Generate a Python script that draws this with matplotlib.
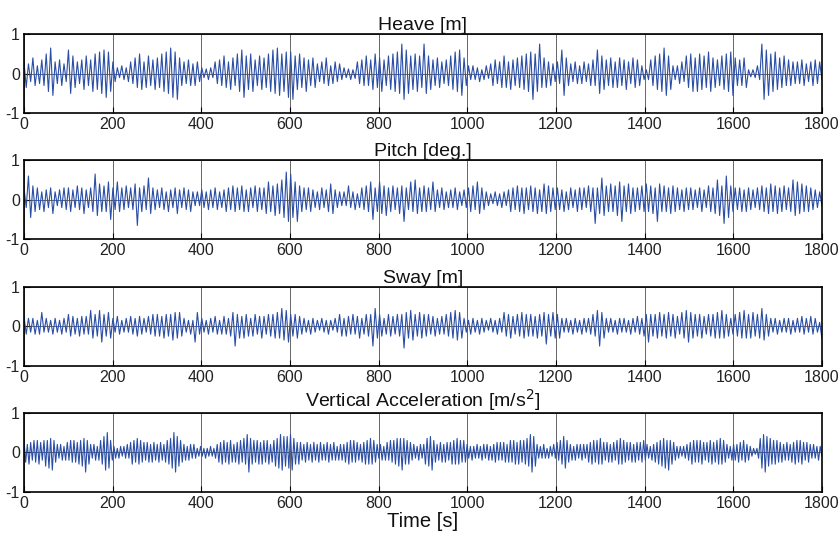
import matplotlib
matplotlib.use("Agg")
import matplotlib.pyplot as plt
import numpy as np

plt.rcParams['font.family'] = ['Liberation Sans', 'DejaVu Sans']
plt.rcParams['axes.unicode_minus'] = False

# turning-point samples of each response, one row per 60 s
heave = [
    0.30, -0.35, 0.25, -0.20, 0.40, -0.30, 0.20, -0.25, 0.35, -0.30, 0.50, -0.45,
    0.65, -0.55, 0.30, -0.25, 0.35, -0.30, 0.25, -0.20, 0.60, -0.50, 0.45, -0.35,
    0.30, -0.25, 0.35, -0.40, 0.45, -0.30, 0.35, -0.45, 0.50, -0.40, 0.55, -0.50,
    0.60, -0.60, 0.55, -0.45, 0.30, -0.20, 0.15, -0.10, 0.20, -0.15, 0.15, -0.20,
    0.30, -0.25, 0.40, -0.35, 0.50, -0.40, 0.30, -0.35, 0.45, -0.30, 0.35, -0.40,
    0.40, -0.35, 0.50, -0.45, 0.55, -0.50, 0.65, -0.60, 0.55, -0.65, 0.40, -0.30,
    0.30, -0.25, 0.35, -0.30, 0.25, -0.30, 0.30, -0.20, 0.15, -0.10, 0.12, -0.15,
    0.15, -0.10, 0.30, -0.25, 0.35, -0.30, 0.45, -0.35, 0.30, -0.40, 0.40, -0.30,
    0.50, -0.45, 0.60, -0.60, 0.45, -0.40, 0.50, -0.45, 0.35, -0.30, 0.45, -0.40,
    0.40, -0.35, 0.50, -0.45, 0.60, -0.50, 0.65, -0.55, 0.50, -0.45, 0.55, -0.60,
    0.55, -0.65, 0.45, -0.40, 0.50, -0.35, 0.40, -0.45, 0.35, -0.30, 0.40, -0.35,
    0.25, -0.20, 0.30, -0.25, 0.40, -0.30, 0.20, -0.25, 0.30, -0.20, 0.25, -0.15,
    0.15, -0.10, 0.12, -0.15, 0.10, -0.12, 0.30, -0.25, 0.35, -0.30, 0.45, -0.30,
    0.35, -0.40, 0.50, -0.35, 0.40, -0.45, 0.35, -0.30, 0.45, -0.40, 0.50, -0.45,
    0.55, -0.50, 0.75, -0.65, 0.60, -0.50, 0.45, -0.40, 0.50, -0.45, 0.45, -0.35,
    0.75, -0.50, 0.45, -0.40, 0.35, -0.30, 0.40, -0.35, 0.30, -0.25, 0.35, -0.30,
    0.45, -0.40, 0.55, -0.45, 0.60, -0.55, 0.40, -0.30, 0.20, -0.15, 0.20, -0.15,
    0.15, -0.20, 0.10, -0.15, 0.20, -0.12, 0.25, -0.30, 0.35, -0.25, 0.30, -0.35,
    0.45, -0.35, 0.30, -0.40, 0.35, -0.30, 0.40, -0.35, 0.45, -0.40, 0.50, -0.45,
    0.55, -0.65, 0.50, -0.45, 0.75, -0.35, 0.40, -0.35, 0.30, -0.30, 0.25, -0.20,
    0.30, -0.25, 0.60, -0.55, 0.40, -0.30, 0.25, -0.20, 0.30, -0.25, 0.20, -0.25,
    0.30, -0.20, 0.25, -0.30, 0.35, -0.30, 0.60, -0.50, 0.45, -0.40, 0.35, -0.30,
    0.40, -0.35, 0.30, -0.35, 0.40, -0.30, 0.35, -0.40, 0.30, -0.25, 0.40, -0.35,
    0.35, -0.30, 0.20, -0.15, 0.10, -0.15, 0.35, -0.30, 0.45, -0.40, 0.50, -0.45,
    0.65, -0.55, 0.45, -0.40, 0.20, -0.15, 0.20, -0.25, 0.30, -0.20, 0.45, -0.35,
    0.50, -0.45, 0.40, -0.45, 0.50, -0.40, 0.45, -0.35, 0.55, -0.45, 0.40, -0.35,
    0.35, -0.30, 0.45, -0.40, 0.50, -0.45, 0.55, -0.55, 0.40, -0.30, 0.35, -0.30,
    0.40, -0.35, 0.10, -0.08, 0.10, -0.10, 0.20, -0.15, 0.75, -0.65, 0.60, -0.55,
    0.50, -0.45, 0.55, -0.40, 0.40, -0.35, 0.45, -0.30, 0.35, -0.30, 0.30, -0.25,
    0.30, -0.25, 0.35, -0.30, 0.25, -0.20, 0.30, -0.30, 0.35, -0.25, 0.30, -0.15,
]

pitch = [
    0.30, -0.20, 0.60, -0.45, 0.35, -0.30, 0.30, -0.25, 0.20, -0.30, 0.25, -0.20,
    0.30, -0.35, 0.20, -0.15, 0.25, -0.20, 0.30, -0.25, 0.30, -0.30, 0.25, -0.20,
    0.35, -0.25, 0.30, -0.35, 0.25, -0.20, 0.30, -0.30, 0.65, -0.40, 0.40, -0.30,
    0.35, -0.30, 0.45, -0.50, 0.30, -0.25, 0.45, -0.30, 0.30, -0.25, 0.35, -0.20,
    0.30, -0.25, 0.40, -0.65, 0.30, -0.30, 0.35, -0.25, 0.55, -0.35, 0.30, -0.25,
    0.25, -0.20, 0.30, -0.25, 0.20, -0.30, 0.25, -0.20, 0.30, -0.35, 0.25, -0.20,
    0.30, -0.25, 0.25, -0.30, 0.20, -0.15, 0.20, -0.15, 0.25, -0.20, 0.20, -0.25,
    0.25, -0.20, 0.30, -0.25, 0.20, -0.20, 0.25, -0.30, 0.30, -0.25, 0.35, -0.30,
    0.30, -0.25, 0.35, -0.30, 0.25, -0.30, 0.30, -0.20, 0.35, -0.30, 0.30, -0.25,
    0.30, -0.35, 0.45, -0.30, 0.35, -0.40, 0.40, -0.35, 0.50, -0.45, 0.70, -0.55,
    0.65, -0.45, 0.45, -0.55, 0.35, -0.30, 0.30, -0.25, 0.30, -0.30, 0.25, -0.20,
    0.20, -0.25, 0.30, -0.20, 0.25, -0.30, 0.40, -0.35, 0.25, -0.20, 0.20, -0.15,
    0.20, -0.15, 0.35, -0.20, 0.20, -0.25, 0.15, -0.20, 0.30, -0.25, 0.35, -0.30,
    0.45, -0.50, 0.30, -0.30, 0.45, -0.35, 0.35, -0.40, 0.30, -0.30, 0.35, -0.25,
    0.30, -0.35, 0.35, -0.55, 0.30, -0.25, 0.45, -0.30, 0.50, -0.35, 0.30, -0.30,
    0.35, -0.30, 0.30, -0.25, 0.45, -0.30, 0.25, -0.20, 0.30, -0.25, 0.20, -0.20,
    0.25, -0.20, 0.30, -0.25, 0.20, -0.15, 0.25, -0.20, 0.30, -0.30, 0.35, -0.25,
    0.45, -0.35, 0.30, -0.25, 0.20, -0.15, 0.15, -0.10, 0.20, -0.15, 0.15, -0.20,
    0.20, -0.15, 0.25, -0.30, 0.30, -0.25, 0.35, -0.30, 0.30, -0.35, 0.30, -0.25,
    0.35, -0.30, 0.30, -0.35, 0.25, -0.30, 0.40, -0.35, 0.35, -0.30, 0.30, -0.25,
    0.30, -0.25, 0.25, -0.30, 0.20, -0.25, 0.30, -0.20, 0.25, -0.30, 0.30, -0.25,
    0.30, -0.20, 0.35, -0.30, 0.30, -0.60, 0.30, -0.35, 0.55, -0.40, 0.35, -0.30,
    0.40, -0.30, 0.35, -0.40, 0.45, -0.55, 0.35, -0.30, 0.40, -0.35, 0.30, -0.30,
    0.30, -0.25, 0.35, -0.30, 0.40, -0.30, 0.35, -0.35, 0.30, -0.55, 0.40, -0.30,
    0.35, -0.30, 0.30, -0.35, 0.35, -0.30, 0.30, -0.25, 0.25, -0.30, 0.30, -0.25,
    0.30, -0.25, 0.25, -0.20, 0.30, -0.30, 0.25, -0.20, 0.35, -0.30, 0.30, -0.35,
    0.50, -0.40, 0.35, -0.60, 0.60, -0.45, 0.35, -0.30, 0.30, -0.25, 0.30, -0.30,
    0.25, -0.30, 0.30, -0.25, 0.25, -0.20, 0.30, -0.25, 0.35, -0.30, 0.30, -0.35,
    0.40, -0.30, 0.35, -0.35, 0.30, -0.30, 0.35, -0.25, 0.30, -0.30, 0.50, -0.40,
    0.45, -0.35, 0.40, -0.30, 0.35, -0.30, 0.30, -0.25, 0.25, -0.20, 0.20, -0.15,
]

sway = [
    0.25, -0.20, 0.20, -0.15, 0.20, -0.20, 0.15, -0.20, 0.35, -0.15, 0.20, -0.15,
    0.15, -0.20, 0.20, -0.15, 0.15, -0.20, 0.20, -0.15, 0.30, -0.25, 0.25, -0.20,
    0.20, -0.25, 0.25, -0.20, 0.25, -0.20, 0.40, -0.30, 0.30, -0.25, 0.40, -0.40,
    0.30, -0.25, 0.35, -0.30, 0.20, -0.15, 0.25, -0.20, 0.15, -0.15, 0.20, -0.15,
    0.25, -0.20, 0.20, -0.25, 0.25, -0.20, 0.20, -0.15, 0.25, -0.20, 0.30, -0.25,
    0.30, -0.25, 0.25, -0.30, 0.30, -0.25, 0.30, -0.35, 0.35, -0.30, 0.35, -0.25,
    0.20, -0.15, 0.15, -0.20, 0.15, -0.40, 0.35, -0.20, 0.20, -0.15, 0.15, -0.20,
    0.20, -0.15, 0.25, -0.20, 0.15, -0.20, 0.25, -0.20, 0.20, -0.25, 0.35, -0.50,
    0.30, -0.30, 0.25, -0.30, 0.30, -0.25, 0.20, -0.25, 0.30, -0.20, 0.25, -0.30,
    0.25, -0.20, 0.30, -0.25, 0.30, -0.30, 0.35, -0.30, 0.45, -0.35, 0.40, -0.40,
    0.30, -0.25, 0.30, -0.30, 0.25, -0.20, 0.20, -0.15, 0.15, -0.20, 0.20, -0.15,
    0.15, -0.10, 0.20, -0.15, 0.15, -0.20, 0.15, -0.10, 0.20, -0.15, 0.30, -0.25,
    0.20, -0.25, 0.25, -0.20, 0.30, -0.20, 0.25, -0.30, 0.20, -0.20, 0.30, -0.25,
    0.30, -0.50, 0.45, -0.30, 0.30, -0.25, 0.20, -0.20, 0.30, -0.25, 0.25, -0.20,
    0.30, -0.25, 0.30, -0.55, 0.35, -0.30, 0.40, -0.35, 0.30, -0.25, 0.35, -0.30,
    0.30, -0.25, 0.30, -0.20, 0.25, -0.25, 0.20, -0.20, 0.25, -0.20, 0.30, -0.25,
    0.35, -0.30, 0.40, -0.35, 0.35, -0.30, 0.20, -0.15, 0.15, -0.20, 0.20, -0.15,
    0.15, -0.20, 0.20, -0.15, 0.15, -0.10, 0.20, -0.15, 0.15, -0.20, 0.20, -0.15,
    0.35, -0.25, 0.30, -0.30, 0.25, -0.20, 0.30, -0.25, 0.35, -0.30, 0.30, -0.25,
    0.30, -0.25, 0.25, -0.30, 0.30, -0.25, 0.35, -0.45, 0.30, -0.25, 0.35, -0.30,
    0.30, -0.30, 0.20, -0.15, 0.20, -0.15, 0.15, -0.20, 0.20, -0.15, 0.15, -0.20,
    0.20, -0.15, 0.20, -0.20, 0.30, -0.25, 0.40, -0.50, 0.35, -0.30, 0.20, -0.15,
    0.20, -0.15, 0.15, -0.20, 0.20, -0.15, 0.20, -0.15, 0.15, -0.20, 0.20, -0.15,
    0.25, -0.20, 0.20, -0.25, 0.30, -0.40, 0.30, -0.25, 0.30, -0.30, 0.35, -0.25,
    0.30, -0.30, 0.35, -0.25, 0.30, -0.30, 0.25, -0.20, 0.35, -0.30, 0.40, -0.40,
    0.35, -0.30, 0.30, -0.25, 0.30, -0.30, 0.25, -0.20, 0.30, -0.25, 0.30, -0.30,
    0.35, -0.30, 0.40, -0.30, 0.30, -0.25, 0.20, -0.20, 0.30, -0.25, 0.35, -0.30,
    0.40, -0.30, 0.30, -0.30, 0.35, -0.25, 0.30, -0.30, 0.45, -0.35, 0.30, -0.25,
    0.20, -0.15, 0.20, -0.20, 0.15, -0.15, 0.20, -0.15, 0.20, -0.20, 0.15, -0.15,
    0.20, -0.15, 0.25, -0.20, 0.20, -0.15, 0.25, -0.20, 0.20, -0.15, 0.10, -0.30,
]

accel = [
    0.30, -0.25, 0.20, -0.30, 0.25, -0.20, 0.30, -0.25, 0.30, -0.30, 0.25, -0.20, 0.30, -0.35, 0.30, -0.40,
    0.35, -0.45, 0.30, -0.25, 0.20, -0.15, 0.20, -0.20, 0.15, -0.20, 0.25, -0.20, 0.30, -0.25, 0.30, -0.25,
    0.25, -0.30, 0.30, -0.35, 0.35, -0.50, 0.30, -0.30, 0.20, -0.15, 0.20, -0.20, 0.15, -0.20, 0.30, -0.30,
    0.40, -0.45, 0.50, -0.40, 0.30, -0.20, 0.15, -0.15, 0.10, -0.15, 0.15, -0.10, 0.15, -0.15, 0.20, -0.15,
    0.25, -0.30, 0.30, -0.25, 0.35, -0.30, 0.30, -0.25, 0.25, -0.20, 0.25, -0.25, 0.20, -0.25, 0.25, -0.20,
    0.20, -0.25, 0.25, -0.20, 0.20, -0.25, 0.30, -0.30, 0.35, -0.40, 0.50, -0.50, 0.40, -0.35, 0.30, -0.25,
    0.20, -0.20, 0.15, -0.20, 0.20, -0.15, 0.20, -0.15, 0.10, -0.10, 0.15, -0.10, 0.10, -0.15, 0.10, -0.10,
    0.15, -0.10, 0.10, -0.15, 0.20, -0.25, 0.25, -0.30, 0.30, -0.25, 0.25, -0.30, 0.30, -0.25, 0.20, -0.25,
    0.25, -0.30, 0.30, -0.25, 0.35, -0.30, 0.45, -0.50, 0.35, -0.30, 0.30, -0.25, 0.30, -0.30, 0.25, -0.30,
    0.30, -0.25, 0.30, -0.30, 0.20, -0.25, 0.30, -0.35, 0.35, -0.40, 0.45, -0.45, 0.40, -0.35, 0.40, -0.40,
    0.45, -0.45, 0.35, -0.30, 0.25, -0.30, 0.25, -0.20, 0.20, -0.25, 0.25, -0.20, 0.20, -0.25, 0.25, -0.20,
    0.20, -0.25, 0.25, -0.20, 0.20, -0.20, 0.25, -0.25, 0.20, -0.20, 0.25, -0.20, 0.15, -0.20, 0.20, -0.20,
    0.20, -0.25, 0.25, -0.30, 0.30, -0.25, 0.30, -0.25, 0.25, -0.20, 0.20, -0.25, 0.25, -0.30, 0.30, -0.30,
    0.35, -0.30, 0.30, -0.25, 0.20, -0.15, 0.20, -0.20, 0.15, -0.20, 0.25, -0.20, 0.30, -0.25, 0.30, -0.30,
    0.35, -0.35, 0.35, -0.45, 0.35, -0.30, 0.30, -0.30, 0.25, -0.20, 0.20, -0.15, 0.15, -0.20, 0.20, -0.15,
    0.20, -0.30, 0.35, -0.35, 0.40, -0.45, 0.30, -0.25, 0.20, -0.20, 0.25, -0.25, 0.20, -0.25, 0.25, -0.20,
    0.25, -0.30, 0.30, -0.30, 0.35, -0.30, 0.30, -0.25, 0.30, -0.25, 0.20, -0.15, 0.15, -0.20, 0.15, -0.15,
    0.20, -0.15, 0.15, -0.20, 0.20, -0.15, 0.20, -0.20, 0.15, -0.20, 0.20, -0.25, 0.25, -0.20, 0.25, -0.20,
    0.25, -0.25, 0.20, -0.25, 0.30, -0.25, 0.30, -0.30, 0.25, -0.30, 0.30, -0.25, 0.30, -0.30, 0.35, -0.35,
    0.45, -0.50, 0.40, -0.35, 0.20, -0.15, 0.15, -0.15, 0.20, -0.15, 0.10, -0.15, 0.15, -0.10, 0.20, -0.15,
    0.25, -0.20, 0.30, -0.30, 0.40, -0.40, 0.30, -0.25, 0.20, -0.20, 0.15, -0.20, 0.20, -0.15, 0.20, -0.20,
    0.20, -0.15, 0.20, -0.25, 0.25, -0.30, 0.30, -0.25, 0.30, -0.30, 0.35, -0.30, 0.25, -0.20, 0.25, -0.25,
    0.20, -0.25, 0.25, -0.20, 0.30, -0.30, 0.35, -0.30, 0.30, -0.25, 0.25, -0.20, 0.25, -0.25, 0.20, -0.25,
    0.25, -0.20, 0.25, -0.25, 0.30, -0.20, 0.20, -0.15, 0.15, -0.20, 0.20, -0.25, 0.25, -0.30, 0.30, -0.35,
    0.35, -0.40, 0.30, -0.45, 0.30, -0.30, 0.25, -0.20, 0.15, -0.15, 0.15, -0.10, 0.15, -0.15, 0.20, -0.20,
    0.25, -0.30, 0.30, -0.25, 0.30, -0.25, 0.30, -0.30, 0.25, -0.20, 0.25, -0.25, 0.30, -0.30, 0.25, -0.25,
    0.30, -0.30, 0.35, -0.30, 0.30, -0.25, 0.20, -0.15, 0.15, -0.20, 0.20, -0.20, 0.20, -0.25, 0.25, -0.20,
    0.30, -0.25, 0.20, -0.20, 0.15, -0.10, 0.10, -0.05, 0.10, -0.15, 0.35, -0.40, 0.45, -0.50, 0.40, -0.35,
    0.35, -0.30, 0.30, -0.30, 0.30, -0.25, 0.25, -0.25, 0.20, -0.20, 0.25, -0.20, 0.20, -0.25, 0.25, -0.30,
    0.30, -0.25, 0.30, -0.30, 0.25, -0.20, 0.25, -0.25, 0.20, -0.15, 0.20, -0.15, 0.15, -0.20, 0.15, -0.10,
]

titles = ['Heave [m]', 'Pitch [deg.]', 'Sway [m]', 'Vertical Acceleration [m/s$^2$]']
series = [heave, pitch, sway, accel]
t_end = 1800
xticks = [0, 200, 400, 600, 800, 1000, 1200, 1400, 1600, 1800]
yticks = [-1, 0, 1]

fig = plt.figure(figsize=(8.39, 5.34), dpi=100)
bottoms = [0.788, 0.552, 0.315, 0.079]
axes = []
for b in bottoms:
    axes.append(fig.add_axes([0.0286, b, 0.951, 0.148]))

for ax, y, title in zip(axes, series, titles):
    t = np.linspace(0, t_end, len(y))
    ax.plot(t, y, color='#2a4ea6', lw=0.8)
    ax.set_xlim(0, t_end)
    ax.set_ylim(-1, 1)
    ax.set_xticks(xticks)
    ax.set_yticks(yticks)
    ax.grid(True, color='#666666', lw=0.7)
    ax.set_axisbelow(True)
    ax.tick_params(direction='in', length=4, labelsize=11.5, pad=3, width=0.8,
                   labelcolor='#222222')
    for s in ax.spines.values():
        s.set_linewidth(1.2)
    ax.set_title(title, fontsize=14, pad=2, color='#111111')

axes[-1].set_xlabel('Time [s]', fontsize=14.5, labelpad=1, color='#111111')

fig.savefig('out.png', dpi=100)
